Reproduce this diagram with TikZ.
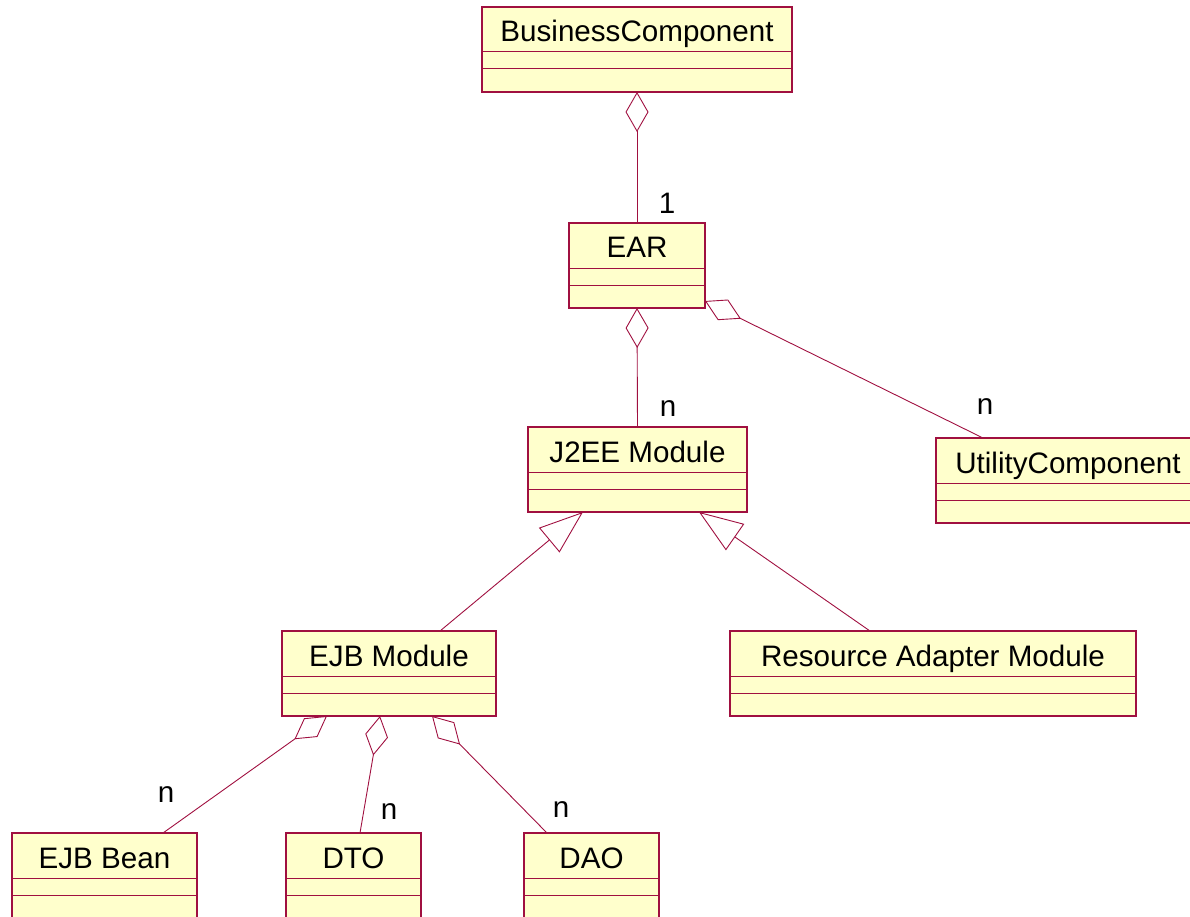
\documentclass[tikz,border=0pt]{standalone}
\usepackage{fontspec}
\setmainfont{Liberation Sans}
\usetikzlibrary{arrows.meta,calc}
\definecolor{umlline}{RGB}{160,16,64}
\definecolor{umlfill}{HTML}{FFFFCC}

\tikzset{
  classrect/.style={draw=umlline, fill=umlfill, line width=1.3pt, inner sep=0pt, outer sep=0pt},
  divider/.style={draw=umlline, line width=1pt},
  classname/.style={anchor=base, inner sep=0pt, font=\fontsize{29.6}{34}\selectfont},
  mult/.style={inner sep=0pt, font=\fontsize{29.6}{34}\selectfont},
  conn/.style={draw=umlline, line width=0.9pt},
  agg/.style={conn, -{Diamond[open, length=40pt, width=23pt]}},
  gen/.style={conn, -{Triangle[open, length=44pt, width=32pt]}},
}

% class box: name, left, top, right, title
\newcommand\classbox[5]{%
  \node[classrect, minimum width={#4-#2}, minimum height=85, anchor=north west] (#1) at (#2,#3) {};
  \draw[divider] ($(#1.north west)+(0,45)$) -- ($(#1.north east)+(0,45)$);
  \draw[divider] ($(#1.north west)+(0,62)$) -- ($(#1.north east)+(0,62)$);
  \node[classname] (#1-title) at ($(#1.north)+(0,35)$) {#5};
}

\begin{document}
\begin{tikzpicture}[x=1pt, y=-1pt]
  \useasboundingbox (0,0) rectangle (1190,917);

  \classbox{bc}{482}{7}{792}{BusinessComponent}
  \classbox{ear}{569}{223}{705}{EAR}
  \classbox{j2ee}{528}{427}{747}{J2EE Module}
  \classbox{util}{936}{438}{1200}{UtilityComponent}
  \classbox{ejbmod}{282}{631}{496}{EJB Module}
  \classbox{ra}{730}{631}{1136}{Resource Adapter Module}
  \classbox{ejbbean}{12}{833}{197}{EJB Bean}
  \classbox{dto}{286}{833}{421}{DTO}
  \classbox{dao}{524}{833}{659}{DAO}

  % aggregations
  \draw[agg] (ear.north) -- (bc.south);
  \draw[agg] (j2ee.north) -- (ear.south);
  \draw[agg] ($(util.north west)+(47,0)$) -- ($(ear.south east)+(0,-7)$);
  \draw[agg] ($(ejbbean.north west)+(151,0)$) -- ($(ejbmod.south west)+(45,0)$);
  \draw[agg] ($(dto.north west)+(74,0)$) -- ($(ejbmod.south west)+(98,0)$);
  \draw[agg] ($(dao.north west)+(23,0)$) -- ($(ejbmod.south west)+(150,0)$);

  % generalizations
  \draw[gen] ($(ejbmod.north west)+(158,0)$) -- ($(j2ee.south west)+(55,0)$);
  \draw[gen] ($(ra.north west)+(140,0)$) -- ($(j2ee.south west)+(171,0)$);

  % multiplicities
  \node[mult] (m-ear) at (667,203) {1};
  \node[mult] (m-j2ee) at (668,409) {n};
  \node[mult] (m-util) at (985,407) {n};
  \node[mult] (m-bean) at (166,795) {n};
  \node[mult] (m-dto) at (389,812) {n};
  \node[mult] (m-dao) at (561,810) {n};
\end{tikzpicture}
\end{document}
